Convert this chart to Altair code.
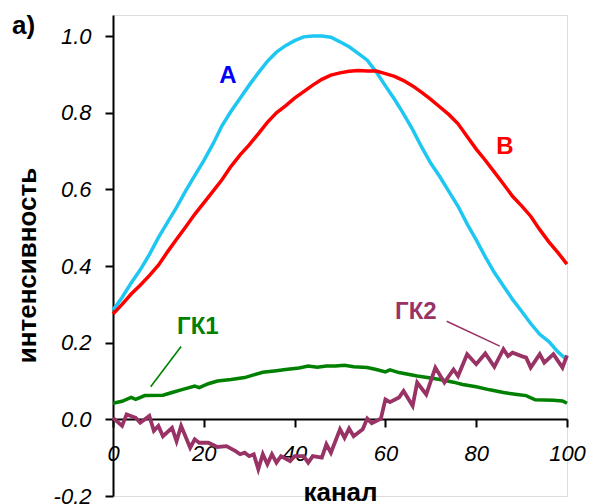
import altair as alt
import pandas as pd

FONT = "Liberation Sans"

# Spectrum A
a_ch = [0, 2, 4, 6, 8, 10, 12, 14, 16, 18, 20, 22, 24, 26, 28, 30, 32, 34, 36, 38, 40,
        42, 44, 46, 48, 50, 52, 54, 56, 58, 60, 62, 64, 66, 68, 70, 72, 74, 76, 78, 80,
        82, 84, 86, 88, 90, 92, 94, 96, 98, 100]
a_val = [0.285, 0.318, 0.356, 0.390, 0.430, 0.474, 0.514, 0.553, 0.596, 0.636, 0.675,
         0.718, 0.766, 0.804, 0.838, 0.872, 0.904, 0.934, 0.958, 0.975, 0.988,
         0.998, 1.000, 1.000, 0.997, 0.985, 0.972, 0.955, 0.937, 0.906, 0.870,
         0.835, 0.797, 0.756, 0.710, 0.668, 0.633, 0.594, 0.556, 0.510, 0.468,
         0.424, 0.383, 0.348, 0.313, 0.282, 0.250, 0.222, 0.203, 0.176, 0.155]

# Spectrum B
b_ch = a_ch
b_val = [0.275, 0.300, 0.327, 0.350, 0.375, 0.402, 0.437, 0.470, 0.502, 0.535, 0.565,
         0.595, 0.625, 0.660, 0.690, 0.716, 0.745, 0.775, 0.800, 0.818, 0.838,
         0.855, 0.872, 0.887, 0.898, 0.904, 0.908, 0.910, 0.909, 0.909, 0.902,
         0.895, 0.884, 0.870, 0.853, 0.835, 0.815, 0.795, 0.771, 0.738, 0.705,
         0.676, 0.645, 0.614, 0.582, 0.557, 0.530, 0.495, 0.463, 0.435, 0.405]

# Principal component 1
pc1_ch = [0, 2, 4, 5, 7, 11, 13, 15, 18, 19, 21, 23, 26, 29, 31, 33, 36, 38, 41, 43, 45,
          47, 49, 51, 53, 56, 58, 60, 61, 63, 67, 70, 72, 75, 77, 80, 83, 86, 89, 91, 93,
          97, 99, 100]
pc1_val = [0.042, 0.047, 0.057, 0.052, 0.062, 0.063, 0.070, 0.077, 0.087, 0.083, 0.093,
           0.100, 0.104, 0.109, 0.116, 0.123, 0.127, 0.130, 0.134, 0.139, 0.136,
           0.139, 0.139, 0.141, 0.137, 0.135, 0.130, 0.124, 0.129, 0.122, 0.113,
           0.108, 0.104, 0.097, 0.091, 0.085, 0.077, 0.070, 0.065, 0.062, 0.051,
           0.050, 0.048, 0.042]

# Principal component 2
pc2_ch = [0, 2, 3, 5, 6, 8, 9, 10, 11, 13, 14, 15, 17, 18, 19, 21, 23, 25, 27, 28, 29,
          30, 31, 32, 33, 34, 35, 36, 37, 39, 40, 42, 43, 44, 46, 47, 48, 50, 51, 52,
          53, 55, 56, 57, 59, 60, 61, 63, 64, 66, 67, 69, 71, 73, 75, 76, 78, 80, 82,
          84, 86, 87, 88, 90, 91, 92, 94, 95, 97, 99, 100]
pc2_val = [0.004, -0.017, 0.013, 0.004, -0.009, 0.009, -0.030, -0.017, -0.044, -0.022,
           -0.057, -0.017, -0.074, -0.052, -0.061, -0.061, -0.072, -0.070, -0.083,
           -0.091, -0.087, -0.096, -0.091, -0.130, -0.091, -0.117, -0.091, -0.113,
           -0.096, -0.109, -0.096, -0.096, -0.113, -0.096, -0.100, -0.065, -0.087,
           -0.026, -0.048, -0.024, -0.044, -0.026, 0.002, -0.010, 0.002, 0.052, 0.045,
           0.057, 0.074, 0.035, 0.096, 0.065, 0.135, 0.096, 0.130, 0.113, 0.170, 0.144,
           0.172, 0.137, 0.183, 0.165, 0.174, 0.165, 0.161, 0.135, 0.170, 0.148, 0.170,
           0.135, 0.167]

# Series labels and leader lines (data coordinates)
lab_text = ["A", "B", "ГК1", "ГК2"]
lab_x = [25.3, 86.3, 18.7, 66.7]
lab_y = [0.896, 0.71, 0.241, 0.281]
lab_color = ["#0000FF", "#FF0000", "#008000", "#993366"]

lead_x = [15.0, 73.5]
lead_y = [0.19, 0.256]
lead_x2 = [8.3, 85.2]
lead_y2 = [0.085, 0.191]
lead_color = ["#008000", "#993366"]

x_ticks = [0, 20, 40, 60, 80, 100]
y_ticks = [-0.2, 0.0, 0.2, 0.4, 0.6, 0.8, 1.0]

xscale = alt.Scale(domain=[0, 100], nice=False, zero=False)
yscale = alt.Scale(domain=[-0.2, 1.055], nice=False, zero=False)

xaxis = alt.Axis(
    values=x_ticks, format="d", title="канал", grid=False, offset=-77,
    labelFont=FONT, labelFontSize=22, labelFontStyle="italic", labelColor="black",
    labelPadding=16, labelFlush=False, tickSize=8, tickWidth=2, tickColor="black",
    domainWidth=2, domainColor="black",
    titleFont=FONT, titleFontSize=26, titleFontWeight="bold", titleColor="black",
    titleBaseline="alphabetic", titleY=81,
)
yaxis = alt.Axis(
    values=y_ticks, grid=False,
    labelExpr="datum.value < 0 ? '-' + format(-datum.value, '.1f') : format(datum.value, '.1f')",
    title="интенсивность",
    labelFont=FONT, labelFontSize=22, labelFontStyle="italic", labelColor="black",
    labelPadding=14, tickSize=8, tickWidth=2, tickColor="black",
    domainWidth=2, domainColor="black",
    titleFont=FONT, titleFontSize=26, titleFontWeight="bold", titleColor="black",
    titleBaseline="alphabetic", titleX=-78, titleY=250,
)

X = alt.X("ch:Q", scale=xscale, axis=xaxis)
Y = alt.Y("v:Q", scale=yscale, axis=yaxis)


def curve(ch, val, color, width):
    df = pd.DataFrame({"ch": ch, "v": val})
    return alt.Chart(df).mark_line(color=color, strokeWidth=width).encode(x=X, y=Y)


lines = [
    curve(a_ch, a_val, "#1EC6F2", 3.5),
    curve(b_ch, b_val, "#FF0000", 3.5),
    curve(pc1_ch, pc1_val, "#008000", 3.5),
    curve(pc2_ch, pc2_val, "#993366", 3.8),
]

lead_df = pd.DataFrame({"ch": lead_x, "v": lead_y, "ch2": lead_x2, "v2": lead_y2,
                        "c": lead_color})
leaders = alt.Chart(lead_df).mark_rule(strokeWidth=1.6).encode(
    x=X, y=Y, x2="ch2:Q", y2="v2:Q", color=alt.Color("c:N", scale=None)
)

lab_df = pd.DataFrame({"ch": lab_x, "v": lab_y, "t": lab_text, "c": lab_color})
labels = alt.Chart(lab_df).mark_text(
    font=FONT, fontSize=24, fontWeight="bold", align="center", baseline="middle"
).encode(x=X, y=Y, text="t:N", color=alt.Color("c:N", scale=None))

# Panel letter in the top-left corner
panel = alt.Chart(pd.DataFrame({"t": ["а)"]})).mark_text(
    font=FONT, fontSize=26, fontWeight="bold", align="left", baseline="alphabetic",
    color="black",
).encode(x=alt.value(-101), y=alt.value(19), text="t:N")

chart = alt.layer(*lines, leaders, labels, panel).properties(
    width=454,
    height=481,
    autosize="none",
    padding={"left": 113, "top": 15, "right": 22, "bottom": 8},
).configure_view(strokeWidth=0).configure(background="white")

chart.save("out.html", embed_options={"renderer": "svg", "actions": False})
